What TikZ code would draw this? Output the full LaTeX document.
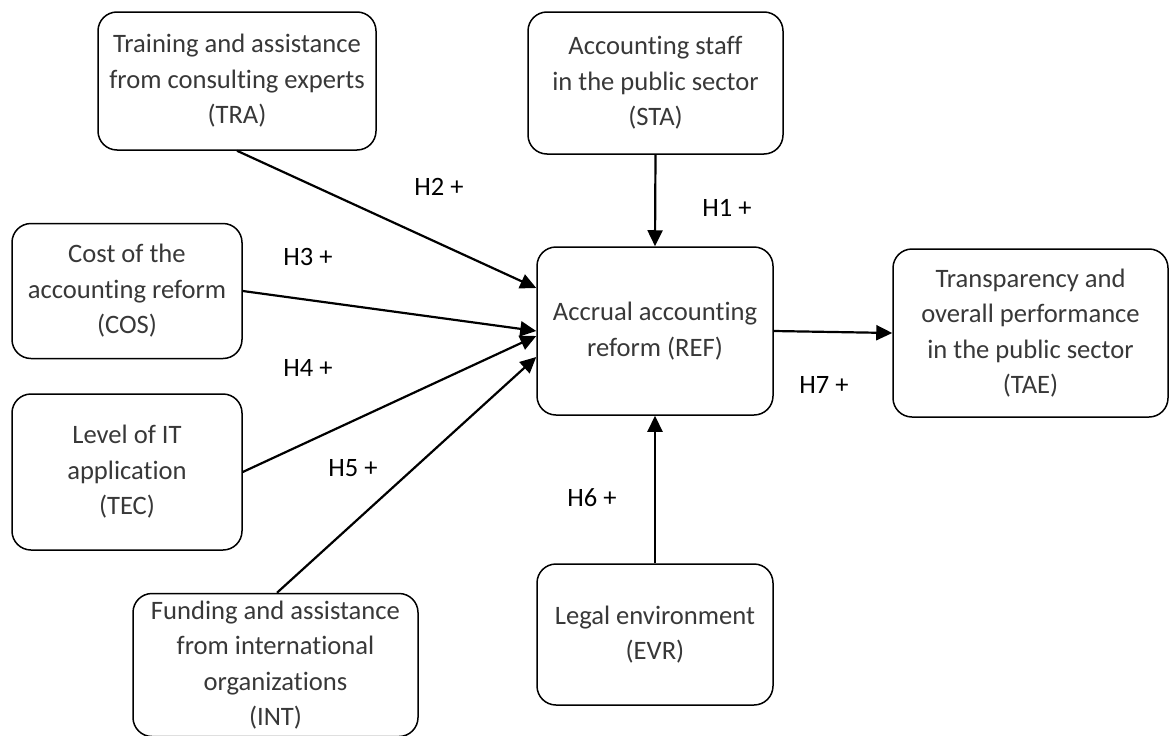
\documentclass[tikz,border=0pt]{standalone}
\usepackage{fontspec}
\setmainfont{Carlito}[Ligatures=CommonOff]
\usetikzlibrary{arrows.meta}
\begin{document}
\begin{tikzpicture}[x=1pt,y=-1pt,
  box/.style={draw=black, line width=1.5pt, rounded corners=19pt, align=center,
    inner sep=0pt, text=black!78, font=\fontsize{26.6}{35.5}\selectfont},
  conn/.style={line width=2.2pt, -{Triangle[length=16pt,width=15pt]}},
  hlab/.style={font=\fontsize{26.5}{30}\selectfont, text=black, inner sep=0pt}]
\useasboundingbox (0,0) rectangle (1170,736);
\node[box, minimum width=278pt, minimum height=138pt] (tra) at (237,81)
  {Training and assistance\\from consulting experts\\(TRA)};
\node[box, minimum width=255pt, minimum height=142pt] (sta) at (655.5,83)
  {Accounting staff\\in the public sector\\(STA)};
\node[box, minimum width=230pt, minimum height=135pt] (cos) at (127,291)
  {Cost of the\\accounting reform\\(COS)};
\node[box, minimum width=230pt, minimum height=156pt] (tec) at (127,472)
  {Level of IT\\application\\(TEC)};
\node[box, minimum width=285pt, minimum height=143pt] (int) at (275.5,665)
  {Funding and assistance\\from international\\organizations\\(INT)};
\node[box, minimum width=236pt, minimum height=168pt] (ref) at (655,331)
  {Accrual accounting\\reform (REF)};
\node[box, minimum width=275pt, minimum height=168pt] (tae) at (1030.5,333)
  {Transparency and\\overall performance\\in the public sector\\(TAE)};
\node[box, minimum width=236pt, minimum height=141pt] (evr) at (655,634.5)
  {Legal environment\\(EVR)};
\draw[conn] (sta.south) -- (ref.north);
\draw[conn] (tra.south) -- ([yshift=43pt]ref.west);
\draw[conn] (cos.east) -- ([yshift=0pt]ref.west);
\draw[conn] (tec.east) -- ([yshift=-5pt]ref.west);
\draw[conn] ([xshift=1.5pt]int.north) -- ([yshift=-26pt]ref.west);
\draw[conn] (evr.north) -- (ref.south);
\draw[conn] (ref.east) -- (tae.west);
\node[hlab] (h1) at (727,208) {H1 +};
\node[hlab] (h2) at (439,187) {H2 +};
\node[hlab] (h3) at (308,257) {H3 +};
\node[hlab] (h4) at (308,368) {H4 +};
\node[hlab] (h5) at (353,468) {H5 +};
\node[hlab] (h6) at (592,498) {H6 +};
\node[hlab] (h7) at (824,385) {H7 +};
\end{tikzpicture}
\end{document}
